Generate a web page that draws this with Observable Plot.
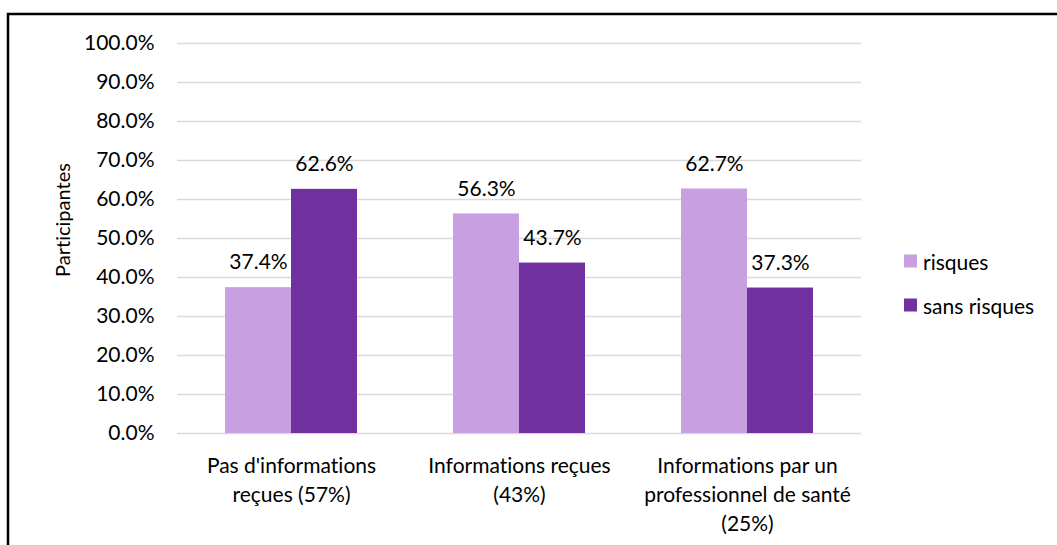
<!DOCTYPE html>
<html><head><meta charset="utf-8">
<script src="https://cdn.jsdelivr.net/npm/d3@7"></script>
<script src="https://cdn.jsdelivr.net/npm/@observablehq/plot@0.6"></script>
<style>body{margin:0;background:#fff;} #chart{position:relative;width:1057px;height:545px;} svg text{font-variant-ligatures:none;font-feature-settings:"liga" 0;}</style>
</head><body><div id="chart"></div>
<script>
const categories = ["Pas d'informations\nreçues (57%)", "Informations reçues\n(43%)", "Informations par un\nprofessionnel de santé\n(25%)"];
const series = ["risques", "sans risques"];
const risques = [0.374, 0.563, 0.627];
const sansRisques = [0.626, 0.437, 0.373];
const yTicks = [0, 0.1, 0.2, 0.3, 0.4, 0.5, 0.6, 0.7, 0.8, 0.9, 1.0];
const colors = ["#c8a0e1", "#7030a0"];
const yLabel = "Participantes";

const data = categories.flatMap((c, i) => [
  {cat: c, serie: series[0], value: risques[i]},
  {cat: c, serie: series[1], value: sansRisques[i]}
]);
const FONT = "Lato, 'Open Sans', sans-serif";
const FS = 21;
const chart = Plot.plot({
  width: 1057, height: 545,
  marginLeft: 176, marginRight: 196, marginTop: 43, marginBottom: 112,
  style: {fontFamily: FONT, fontSize: FS + "px", color: "#000", background: "transparent"},
  fx: {domain: categories, padding: 0, label: null},
  x: {domain: series, paddingInner: 0, paddingOuter: 0.717, axis: null},
  y: {domain: [0, 1], axis: null},
  color: {domain: series, range: colors},
  marks: [
    Plot.ruleY(yTicks, {stroke: "#d9d9d9", strokeWidth: 1.5}),
    Plot.barY(data, {fx: "cat", x: "serie", y: "value", fill: "serie"}),
    Plot.text(data, {fx: "cat", x: "serie", y: "value", text: d => d3.format(".1%")(d.value), dy: -25, fontSize: FS, fill: "#000"}),
    Plot.axisY(yTicks, {tickFormat: ".1%", tickSize: 0, tickPadding: 23, label: null, fontSize: FS, fill: "#000"}),
    Plot.axisFx({anchor: "bottom", tickSize: 0, tickPadding: 19, lineHeight: 1.38, label: null, fontSize: FS, fill: "#000"})
  ]
});
document.getElementById("chart").appendChild(chart);
const svg = d3.select(chart);
svg.append("path").attr("d", "M8,545V14H1057").attr("fill", "none").attr("stroke", "#000").attr("stroke-width", 2.5);
svg.append("text").attr("transform", "translate(62,220) rotate(-90)").attr("text-anchor", "middle")
  .attr("dominant-baseline", "central").attr("font-family", FONT).attr("font-size", 20).attr("fill", "#000").text(yLabel);
const leg = svg.append("g");
series.forEach((s, i) => {
  const cy = 261 + i * 44;
  leg.append("rect").attr("x", 904).attr("y", cy - 6.5).attr("width", 13).attr("height", 13).attr("fill", colors[i]);
  leg.append("text").attr("x", 923).attr("y", cy).attr("text-anchor", "start").attr("dominant-baseline", "central")
    .attr("font-family", FONT).attr("font-size", FS).attr("fill", "#000").text(s);
});
</script>
</body></html>
